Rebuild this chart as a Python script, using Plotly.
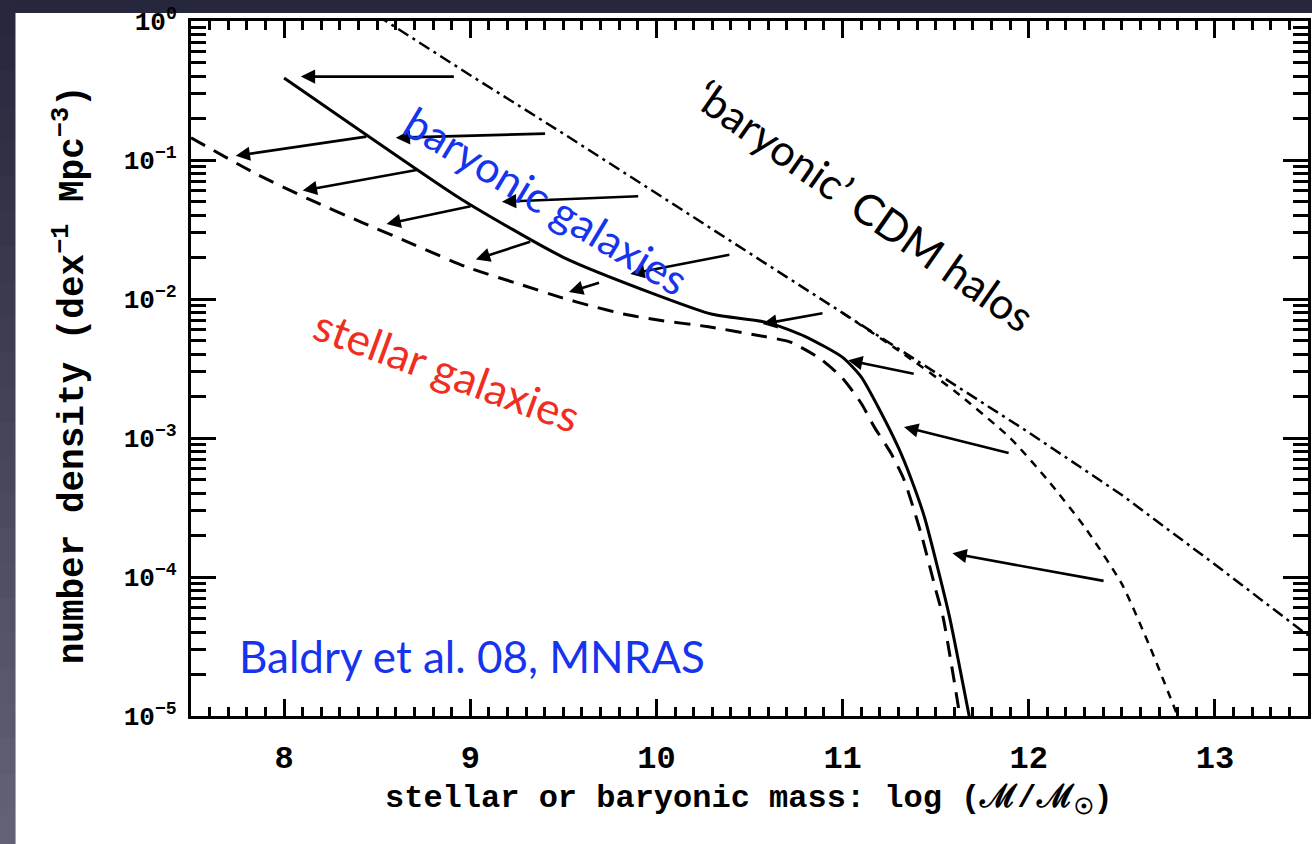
import numpy as np
import plotly.graph_objects as go

# ---- data: log10 number density (dex^-1 Mpc^-3) vs log mass ----
cdm_mass = [8.50, 9.0, 9.5, 10.0, 10.5, 11.0, 11.5, 12.0, 12.5, 13.0, 13.5]
cdm_logn = [0.04, -0.39, -0.81, -1.24, -1.67, -2.10, -2.53, -2.96, -3.41, -3.91, -4.42]

halo_bar_mass = [11.0, 11.3, 11.6, 11.9, 12.1, 12.3, 12.5, 12.65, 12.8]
halo_bar_logn = [-2.10, -2.37, -2.66, -3.00, -3.30, -3.64, -4.05, -4.50, -5.0]

baryonic_mass = [8.0, 8.4, 8.95, 9.5, 10.0, 10.3, 10.6, 10.8, 11.0, 11.1, 11.2, 11.3,
                 11.37, 11.44, 11.51, 11.575, 11.68]
baryonic_logn = [-0.41, -0.78, -1.28, -1.70, -1.97, -2.11, -2.17, -2.27, -2.42, -2.56,
                 -2.80, -3.07, -3.30, -3.57, -3.93, -4.29, -5.0]

stellar_mass = [7.5, 7.85, 8.13, 8.42, 8.70, 8.98, 9.28, 9.49, 9.65, 9.83, 10.0, 10.28,
                10.58, 10.72, 10.88, 11.0, 11.1, 11.17, 11.26, 11.33, 11.42, 11.5, 11.54, 11.63]
stellar_logn = [-0.84, -1.10, -1.28, -1.45, -1.61, -1.77, -1.90, -1.99, -2.05, -2.11, -2.15,
                -2.20, -2.27, -2.31, -2.43, -2.57, -2.75, -2.92, -3.11, -3.30, -3.68, -4.09,
                -4.29, -5.0]

# mapping arrows: (tail mass, tail logn, head mass, head logn)
halo_to_baryon_arrows = [
    (8.92, -0.40, 8.09, -0.40),
    (9.41, -0.81, 8.60, -0.84),
    (9.91, -1.26, 9.17, -1.30),
    (10.40, -1.68, 9.86, -1.82),
    (10.90, -2.10, 10.57, -2.18),
    (11.39, -2.54, 11.03, -2.44),
    (11.90, -3.11, 11.33, -2.92),
    (12.41, -4.03, 11.59, -3.83),
]
baryon_to_stellar_arrows = [
    (8.45, -0.83, 7.74, -0.97),
    (8.72, -1.07, 8.10, -1.22),
    (9.01, -1.33, 8.55, -1.46),
    (9.33, -1.585, 9.03, -1.715),
    (9.70, -1.88, 9.53, -1.95),
]

x_ticks = [8, 9, 10, 11, 12, 13]
y_ticks_exp = [0, -1, -2, -3, -4, -5]

# ---- figure geometry ----
W, H = 1312, 844
ML, MR, MT, MB = 191, 1, 21, 128
PW, PH = W - ML - MR, H - MT - MB


def px_x(p):
    return (p - ML) / PW


def px_y(p):
    return (H - MB - p) / PH


fig = go.Figure()

fig.add_trace(go.Scatter(x=cdm_mass, y=[10 ** v for v in cdm_logn], mode="lines",
                         line=dict(color="black", width=2.5, dash="12px,5px,3px,5px")))
fig.add_trace(go.Scatter(x=halo_bar_mass, y=[10 ** v for v in halo_bar_logn], mode="lines",
                         line=dict(color="black", width=2.5, dash="8px,7px",
                                   shape="spline", smoothing=0.6)))
fig.add_trace(go.Scatter(x=baryonic_mass, y=[10 ** v for v in baryonic_logn], mode="lines",
                         line=dict(color="black", width=3, shape="spline", smoothing=0.6)))
fig.add_trace(go.Scatter(x=stellar_mass, y=[10 ** v for v in stellar_logn], mode="lines",
                         line=dict(color="black", width=3, dash="16px,10px",
                                   shape="spline", smoothing=0.6)))

annotations = []
for (tm, tl, hm, hl) in halo_to_baryon_arrows + baryon_to_stellar_arrows:
    annotations.append(dict(x=hm, y=hl, ax=tm, ay=tl, xref="x", yref="y", axref="x", ayref="y",
                            text="", showarrow=True, arrowhead=2, arrowsize=1.1,
                            arrowwidth=2.6, arrowcolor="black", standoff=0, startstandoff=0))

label_font = "Lato, 'Open Sans', sans-serif"
annotations += [
    dict(x=9.41, y=-1.29, xref="x", yref="y", text="baryonic galaxies", showarrow=False,
         textangle=31, font=dict(family=label_font, size=43, color="rgb(22,52,238)")),
    dict(x=11.12, y=-1.33, xref="x", yref="y", text="\u2018baryonic\u2019 CDM halos",
         showarrow=False, textangle=35, font=dict(family=label_font, size=43, color="black")),
    dict(x=8.88, y=-2.51, xref="x", yref="y", text="stellar galaxies", showarrow=False,
         textangle=20, font=dict(family=label_font, size=44, color="rgb(240,45,30)")),
    dict(x=9.01, y=-4.57, xref="x", yref="y", text="Baldry et al. 08, MNRAS", showarrow=False,
         font=dict(family=label_font, size=44, color="rgb(22,52,238)")),
    dict(x=px_x(750), y=px_y(800), xref="paper", yref="paper", xanchor="center", yanchor="middle",
         text="stellar or baryonic mass: log (\u2133/\u2133<sub>\u2609</sub>)", showarrow=False,
         font=dict(family="Liberation Mono", size=32, color="black", weight="bold")),
    dict(x=px_x(70), y=px_y(375), xref="paper", yref="paper", xanchor="center", yanchor="middle",
         textangle=-90,
         text="number density (dex<sup>\u22121</sup> Mpc<sup>\u22123</sup>)", showarrow=False,
         font=dict(family="Liberation Mono", size=36, color="black", weight="bold")),
]

# slide background: white panel over a dark, slightly graded backdrop
shapes = []
n_strip = 24
for i in range(n_strip):
    f = (i + 0.5) / n_strip
    c = (int(38 + 62 * f), int(38 + 62 * f), int(60 + 58 * f))
    shapes.append(dict(type="rect", xref="paper", yref="paper", layer="below",
                       x0=px_x(-2), x1=px_x(15), y0=px_y(H * (i + 1) / n_strip + 1),
                       y1=px_y(H * i / n_strip), line=dict(width=0),
                       fillcolor="rgb(%d,%d,%d)" % c))
shapes.append(dict(type="rect", xref="paper", yref="paper", layer="below",
                   x0=px_x(15), x1=px_x(W + 5), y0=px_y(H + 5), y1=px_y(13),
                   line=dict(width=0), fillcolor="white"))

x_minor = [round(7.5 + 0.1 * k, 1) for k in range(61)
           if abs((7.5 + 0.1 * k) - round(7.5 + 0.1 * k)) > 1e-6]
y_minor = [m * 10.0 ** e for e in range(-5, 0) for m in range(2, 10)]

fig.update_layout(
    width=W, height=H,
    margin=dict(l=ML, r=MR, t=MT, b=MB, pad=0),
    paper_bgcolor="rgb(38,38,60)",
    plot_bgcolor="white",
    showlegend=False,
    shapes=shapes,
    annotations=annotations,
    xaxis=dict(range=[7.5, 13.5], tickmode="array", tickvals=x_ticks,
               ticktext=[str(v) for v in x_ticks], ticks="inside", ticklen=17, tickwidth=3,
               tickcolor="black", showline=True, linewidth=3, linecolor="black",
               mirror="allticks", showgrid=False, zeroline=False, ticklabelstandoff=11,
               tickfont=dict(family="Liberation Mono", size=32, color="black", weight="bold"),
               minor=dict(tickmode="array", tickvals=x_minor, ticks="inside", ticklen=9,
                          tickwidth=3, tickcolor="black", showgrid=False)),
    yaxis=dict(type="log", range=[-5, 0], tickmode="array",
               tickvals=[10.0 ** e for e in y_ticks_exp],
               ticktext=["10<sup>%s</sup>" % (str(e).replace("-", "\u2212")) for e in y_ticks_exp],
               ticks="inside", ticklen=25, tickwidth=3, tickcolor="black", showline=True,
               linewidth=3, linecolor="black", mirror="allticks", showgrid=False,
               zeroline=False, ticklabelstandoff=6,
               tickfont=dict(family="Liberation Mono", size=26, color="black", weight="bold"),
               minor=dict(tickmode="array", tickvals=y_minor, ticks="inside", ticklen=15,
                          tickwidth=3, tickcolor="black", showgrid=False)),
)

fig.write_html("out.html")
